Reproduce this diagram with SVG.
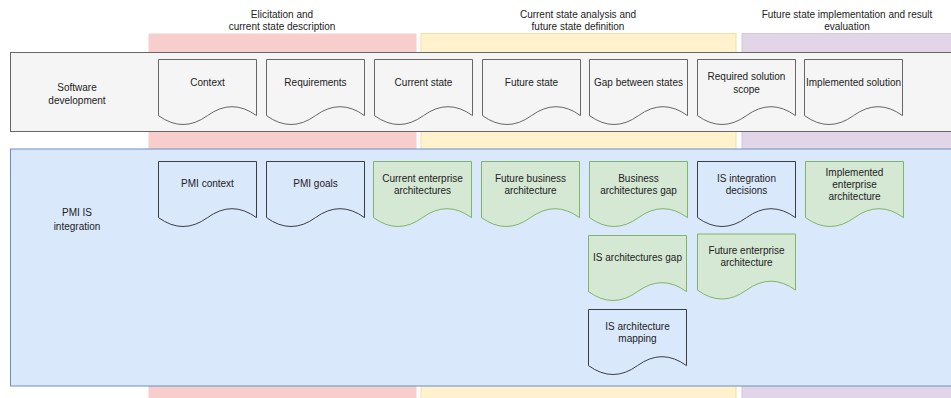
<svg xmlns="http://www.w3.org/2000/svg" width="951" height="398" viewBox="0 0 951 398">
<style>
text{font-family:"Liberation Sans",Arial,Helvetica,sans-serif;font-size:10px;fill:#222;text-anchor:middle}
.sd{fill:#f5f5f5;stroke:#666666;stroke-width:1}
.blue{fill:#dae8fc;stroke:#3a3d44;stroke-width:1}
.green{fill:#d5e8d4;stroke:#82b366;stroke-width:1}
</style>
<defs>
<path id="doc" d="M0,0H98V56.1Q73.5,38.3 49,56.1T0,56.1Z"/>
</defs>
<g id="columns">
<g id="col-elicitation"><rect x="148.5" y="33.5" width="268" height="370" fill="#f8cecc"/><text x="282" y="17.5">Elicitation and</text><text x="282" y="30">current state description</text></g>
<g id="col-analysis"><rect x="421" y="33.5" width="315" height="370" fill="#fff2cc" stroke="#f0e0a8" stroke-width="1"/><text x="578" y="17.5">Current state analysis and</text><text x="578" y="30">future state definition</text></g>
<g id="col-implementation"><rect x="742" y="33.5" width="215" height="370" fill="#e1d5e7" stroke="#d6c6de" stroke-width="1"/><text x="847" y="17.5">Future state implementation and result</text><text x="847" y="30">evaluation</text></g>
</g>
<g id="row-software"><rect x="10.5" y="52.5" width="960" height="79" fill="#f5f5f5" stroke="#666666"/><text x="77" y="90.5">Software</text><text x="77" y="103.5">development</text></g>
<g id="row-pmi"><rect x="10.5" y="149" width="960" height="237" fill="#dae8fc" stroke="#6c8ebf"/><text x="77" y="216">PMI IS</text><text x="77" y="229.5">integration</text></g>
<g id="connectors"></g>
<g id="n-context"><use href="#doc" class="sd" x="158.5" y="59.5"/><text x="207.5" y="85.5">Context</text></g>
<g id="n-requirements"><use href="#doc" class="sd" x="266.5" y="59.5"/><text x="315.5" y="85.5">Requirements</text></g>
<g id="n-current-state"><use href="#doc" class="sd" x="374.5" y="59.5"/><text x="423.5" y="85.5">Current state</text></g>
<g id="n-future-state"><use href="#doc" class="sd" x="482.5" y="59.5"/><text x="531.5" y="85.5">Future state</text></g>
<g id="n-gap-states"><use href="#doc" class="sd" x="589.5" y="59.5"/><text x="638.5" y="85.5">Gap between states</text></g>
<g id="n-required-scope"><use href="#doc" class="sd" x="697.5" y="59.5"/><text x="746.5" y="79.5">Required solution</text><text x="746.5" y="92.5">scope</text></g>
<g id="n-implemented-solution"><use href="#doc" class="sd" x="804.5" y="59.5"/><text x="853.5" y="85.5">Implemented solution</text></g>
<g id="n-pmi-context"><use href="#doc" class="blue" x="158.5" y="161.5"/><text x="207.5" y="187">PMI context</text></g>
<g id="n-pmi-goals"><use href="#doc" class="blue" x="266.5" y="161.5"/><text x="315.5" y="187">PMI goals</text></g>
<g id="n-current-ea"><use href="#doc" class="green" x="373.5" y="161.5"/><text x="422.5" y="181.5">Current enterprise</text><text x="422.5" y="194">architectures</text></g>
<g id="n-future-ba"><use href="#doc" class="green" x="481.5" y="161.5"/><text x="530.5" y="181.5">Future business</text><text x="530.5" y="194">architecture</text></g>
<g id="n-ba-gap"><use href="#doc" class="green" x="589.5" y="161.5"/><text x="638.5" y="181.5">Business</text><text x="638.5" y="194">architectures gap</text></g>
<g id="n-is-decisions"><use href="#doc" class="blue" x="697.5" y="161.5"/><text x="746.5" y="181.5">IS integration</text><text x="746.5" y="194">decisions</text></g>
<g id="n-implemented-ea"><use href="#doc" class="green" x="805.5" y="161.5"/><text x="854.5" y="175.5">Implemented</text><text x="854.5" y="187.5">enterprise</text><text x="854.5" y="199.5">architecture</text></g>
<g id="n-is-gap"><use href="#doc" class="green" x="588.5" y="235.5"/><text x="637.5" y="261">IS architectures gap</text></g>
<g id="n-future-ea"><use href="#doc" class="green" x="697.5" y="234"/><text x="746.5" y="253.5">Future enterprise</text><text x="746.5" y="266">architecture</text></g>
<g id="n-is-mapping"><use href="#doc" class="blue" x="588.5" y="309.5"/><text x="637.5" y="329.5">IS architecture</text><text x="637.5" y="342">mapping</text></g>
</svg>
